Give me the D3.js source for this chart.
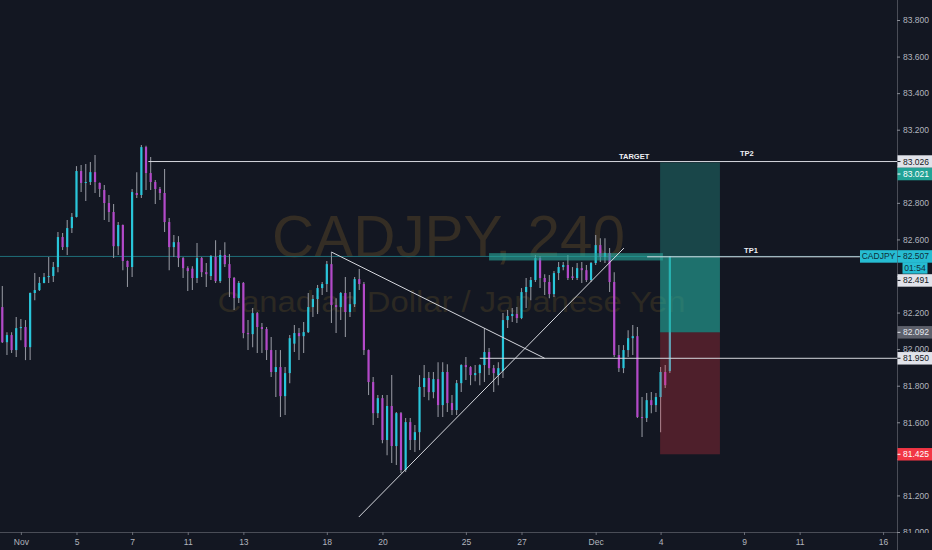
<!DOCTYPE html>
<html>
<head>
<meta charset="utf-8">
<script src="https://cdn.jsdelivr.net/npm/d3@7"></script>
<style>
  html, body { margin: 0; padding: 0; background: #131722; }
  svg { display: block; }
</style>
</head>
<body>
<div id="chart"></div>
<script>
// CADJPY 240 bars, index 0 = first bar of Nov 1
var firstBar = -4;

var opens = [82.230,82.038,82.077,81.995,82.115,82.121,82.011,82.307,82.323,82.362,
  82.394,82.400,82.449,82.613,82.558,82.662,82.723,82.974,82.909,82.914,
  82.968,82.909,82.870,82.799,82.750,82.563,82.679,82.482,82.449,82.854,
  82.843,83.105,82.963,82.914,82.876,82.854,82.695,82.558,82.585,82.498,
  82.443,82.440,82.389,82.498,82.421,82.400,82.504,82.372,82.515,82.465,
  82.389,82.279,82.362,82.088,82.082,82.197,82.121,82.110,81.995,81.875,
  81.902,81.743,81.869,82.030,82.088,82.071,82.093,82.230,82.274,82.334,
  82.356,82.465,82.241,82.230,82.307,82.203,82.246,82.383,82.356,81.995,
  81.820,81.650,81.732,81.503,81.689,81.470,81.650,81.339,81.601,81.503,
  81.546,81.793,81.842,81.765,81.836,81.694,81.875,81.705,81.667,81.814,
  81.913,81.902,81.858,81.869,81.913,81.984,81.896,81.858,81.880,82.159,
  82.181,82.192,82.170,82.312,82.340,82.378,82.498,82.389,82.367,82.301,
  82.416,82.449,82.460,82.398,82.389,82.443,82.432,82.378,82.471,82.569,
  82.504,82.526,82.367,81.968,81.896,81.995,82.060,82.071,81.629,81.623,
  81.721,81.694,81.738,81.875,81.880];

var highs = [82.345,82.093,82.093,82.176,82.165,82.159,82.310,82.416,82.394,82.416,
  82.504,82.476,82.640,82.635,82.706,82.745,83.001,83.007,83.012,83.023,
  83.062,82.912,82.898,82.843,82.794,82.695,82.682,82.485,82.876,82.968,
  83.116,83.112,83.051,82.925,82.887,82.985,82.717,82.624,82.618,82.504,
  82.454,82.454,82.580,82.504,82.471,82.515,82.596,82.542,82.585,82.520,
  82.394,82.372,82.367,82.159,82.225,82.203,82.143,82.121,82.066,81.995,
  81.995,81.902,82.077,82.132,82.115,82.148,82.307,82.296,82.351,82.367,
  82.482,82.531,82.279,82.312,82.394,82.312,82.394,82.438,82.367,81.998,
  81.847,81.749,81.749,81.749,81.858,81.656,81.656,81.623,81.623,81.585,
  81.858,81.913,81.875,81.875,81.929,81.929,81.918,81.749,81.831,81.918,
  81.957,81.907,81.913,81.918,82.115,82.006,81.913,81.929,82.197,82.214,
  82.225,82.230,82.334,82.389,82.394,82.515,82.509,82.410,82.405,82.427,
  82.476,82.476,82.515,82.449,82.471,82.476,82.460,82.476,82.624,82.607,
  82.607,82.553,82.421,82.022,82.022,82.104,82.132,82.121,81.738,81.760,
  81.765,81.760,81.902,81.913,82.509];

var lows = [82.033,81.968,81.979,81.957,82.049,81.940,81.940,82.268,82.318,82.360,
  82.362,82.367,82.421,82.542,82.515,82.635,82.720,82.859,82.810,82.898,
  82.854,82.832,82.706,82.695,82.498,82.515,82.432,82.340,82.394,82.826,
  82.826,82.870,82.870,82.794,82.815,82.640,82.432,82.504,82.449,82.389,
  82.318,82.323,82.362,82.394,82.340,82.378,82.362,82.362,82.449,82.285,
  82.214,82.252,82.060,81.995,82.011,81.979,81.979,81.940,81.847,81.738,
  81.629,81.640,81.814,81.984,81.940,81.979,82.088,82.176,82.192,82.296,
  82.312,82.143,82.088,82.159,82.066,82.176,82.230,82.323,81.968,81.749,
  81.585,81.623,81.486,81.420,81.377,81.366,81.322,81.328,81.448,81.437,
  81.448,81.738,81.721,81.732,81.629,81.629,81.656,81.640,81.640,81.765,
  81.831,81.803,81.825,81.803,81.820,81.858,81.765,81.803,81.842,82.115,
  82.148,82.143,82.164,82.225,82.268,82.367,82.334,82.296,82.279,82.285,
  82.378,82.432,82.378,82.378,82.378,82.362,82.367,82.367,82.460,82.476,
  82.471,82.312,81.957,81.875,81.869,81.957,81.968,81.623,81.519,81.601,
  81.650,81.656,81.546,81.787,81.869];

var closes = [82.038,82.077,81.995,82.115,82.121,82.011,82.307,82.323,82.362,82.394,
  82.400,82.449,82.613,82.558,82.662,82.723,82.974,82.909,82.914,82.968,
  82.914,82.876,82.799,82.750,82.563,82.679,82.482,82.449,82.859,82.843,
  83.105,82.963,82.914,82.876,82.854,82.695,82.558,82.585,82.498,82.443,
  82.427,82.389,82.498,82.421,82.410,82.509,82.372,82.515,82.465,82.389,
  82.279,82.362,82.088,82.082,82.197,82.121,82.110,81.995,81.875,81.902,
  81.743,81.869,82.060,82.088,82.071,82.093,82.230,82.274,82.334,82.356,
  82.465,82.241,82.230,82.307,82.203,82.246,82.383,82.356,81.995,81.820,
  81.650,81.732,81.503,81.689,81.470,81.650,81.339,81.601,81.503,81.546,
  81.793,81.842,81.765,81.836,81.694,81.875,81.705,81.667,81.814,81.913,
  81.902,81.858,81.869,81.913,81.984,81.896,81.869,81.896,82.159,82.181,
  82.192,82.170,82.312,82.340,82.378,82.498,82.389,82.367,82.301,82.416,
  82.449,82.460,82.389,82.389,82.443,82.432,82.378,82.471,82.569,82.504,
  82.526,82.367,81.968,81.896,81.995,82.060,82.071,81.629,81.623,81.721,
  81.694,81.738,81.875,81.803,82.507];

// time axis: bar index of each labelled day
var dayTicks = [0, 12, 24, 36, 48, 66, 78, 96, 108, 124, 138, 156, 168, 186];
var dayLabels = ["Nov", "5", "7", "11", "13", "18", "20", "25", "27", "Dec", "4", "9", "11", "16"];

var priceTicks = [81.0, 81.2, 81.4, 81.6, 81.8, 82.0, 82.2, 82.4, 82.6, 82.8, 83.0, 83.2, 83.4, 83.6, 83.8];

// drawings (bar index, price)
var levelPrices = [83.026, 81.950];
var levelStarts = [27.5, 99];
var trendStart = [[67, 82.531], [72.9, 81.082]];
var trendEnd = [[113, 81.950], [130.1, 82.553]];
var tp1Line = [135.1, 181, 82.505];
var zoneBand = [101, 138.5, 82.525, 82.485];
var position = {from: 137.9, to: 150.8, entry: 82.092, target: 83.021, stop: 81.425};
var lastPrice = 82.507;
var noteTexts = ["TARGET", "TP2", "TP1"];
var notePos = [[132.3, 83.039], [156.6, 83.056], [157.5, 82.525]];

// price scale labels
var markPrices = [83.026, 83.021, 82.507, 82.491, 82.092, 81.950, 81.425];
var markKinds = ["line", "target", "last", "line", "entry", "line", "stop"];
var symbolName = "CADJPY";
var countdown = "01:54";

var svgWidth = 932;
var svgHeight = 550;
var plotW = 897;
var plotH = 532;

var markStyle = {
  line:   {bg: "#e1e3ea", fg: "#131722"},
  target: {bg: "#22a396", fg: "#ffffff"},
  last:   {bg: "#26bcd2", fg: "#0f2d38"},
  entry:  {bg: "#5d606b", fg: "#e6e8ee"},
  stop:   {bg: "#f23645", fg: "#ffffff"}
};

var svg = d3.select("#chart")
  .append("svg")
  .attr("width", svgWidth)
  .attr("height", svgHeight)
  .style("font-family", "'Liberation Sans', Arial, sans-serif");

svg.append("rect")
  .attr("width", svgWidth)
  .attr("height", svgHeight)
  .attr("fill", "#131722");

var xScale = d3.scaleLinear().domain([-4.5, 189]).range([0, plotW]);
var yScale = d3.scaleLinear().domain([81.0, 83.8]).range([plotH, 20]);

var defs = svg.append("defs");
defs.append("clipPath").attr("id", "plotClip")
  .append("rect").attr("width", plotW).attr("height", plotH);
defs.append("clipPath").attr("id", "axisClip")
  .append("rect").attr("x", plotW).attr("width", svgWidth - plotW).attr("height", plotH + 1);

var plot = svg.append("g").attr("clip-path", "url(#plotClip)");

// watermark
plot.append("text")
  .attr("x", plotW / 2)
  .attr("y", 257)
  .attr("text-anchor", "middle")
  .attr("font-size", 60)
  .attr("textLength", 353)
  .attr("lengthAdjust", "spacingAndGlyphs")
  .attr("fill", "#342d24")
  .text(symbolName + ", 240");

plot.append("text")
  .attr("x", plotW / 2 + 3)
  .attr("y", 312)
  .attr("text-anchor", "middle")
  .attr("font-size", 30)
  .attr("textLength", 468)
  .attr("lengthAdjust", "spacingAndGlyphs")
  .attr("fill", "#2c2923")
  .text("Canadian Dollar / Japanese Yen");

// last price line
plot.append("line")
  .attr("x1", 0).attr("x2", plotW)
  .attr("y1", yScale(lastPrice)).attr("y2", yScale(lastPrice))
  .attr("stroke", "#1f6f7a")
  .attr("stroke-width", 1);

// candles
var bars = opens.map(function(o, i) {
  return {k: firstBar + i, o: o, h: highs[i], l: lows[i], c: closes[i]};
});

var candles = plot.append("g");
candles.selectAll("line")
  .data(bars)
  .enter()
  .append("line")
  .attr("x1", d => xScale(d.k))
  .attr("x2", d => xScale(d.k))
  .attr("y1", d => yScale(d.h))
  .attr("y2", d => yScale(d.l))
  .attr("stroke", "#8e919a")
  .attr("stroke-width", 1.1);

candles.selectAll("rect")
  .data(bars)
  .enter()
  .append("rect")
  .attr("x", d => xScale(d.k) - 1.1)
  .attr("width", 2.2)
  .attr("y", d => yScale(Math.max(d.o, d.c)))
  .attr("height", d => Math.max(1, Math.abs(yScale(d.o) - yScale(d.c))))
  .attr("fill", d => d.c >= d.o ? "#29c6da" : "#b349c9");

// teal zone band
plot.append("rect")
  .attr("x", xScale(zoneBand[0]))
  .attr("width", xScale(zoneBand[1]) - xScale(zoneBand[0]))
  .attr("y", yScale(zoneBand[2]))
  .attr("height", yScale(zoneBand[3]) - yScale(zoneBand[2]))
  .attr("fill", "rgba(38,166,154,0.62)");

// long position tool
var px0 = xScale(position.from);
var pw = xScale(position.to) - px0;
plot.append("rect")
  .attr("x", px0).attr("width", pw)
  .attr("y", yScale(position.target))
  .attr("height", yScale(position.entry) - yScale(position.target))
  .attr("fill", "rgba(38,166,154,0.33)");
plot.append("rect")
  .attr("x", px0).attr("width", pw)
  .attr("y", yScale(lastPrice))
  .attr("height", yScale(position.entry) - yScale(lastPrice))
  .attr("fill", "rgba(38,166,154,0.45)");
plot.append("rect")
  .attr("x", px0).attr("width", pw)
  .attr("y", yScale(position.entry))
  .attr("height", yScale(position.stop) - yScale(position.entry))
  .attr("fill", "rgba(242,54,69,0.27)");

// horizontal levels
var drawings = plot.append("g")
  .attr("stroke", "#d6d8de")
  .attr("stroke-width", 1)
  .attr("fill", "none");

levelPrices.forEach(function(p, i) {
  drawings.append("line")
    .attr("x1", xScale(levelStarts[i])).attr("x2", plotW)
    .attr("y1", yScale(p)).attr("y2", yScale(p));
});

// trend lines
trendStart.forEach(function(s, i) {
  drawings.append("line")
    .attr("x1", xScale(s[0])).attr("y1", yScale(s[1]))
    .attr("x2", xScale(trendEnd[i][0])).attr("y2", yScale(trendEnd[i][1]));
});

drawings.append("line")
  .attr("x1", xScale(tp1Line[0])).attr("x2", xScale(tp1Line[1]))
  .attr("y1", yScale(tp1Line[2])).attr("y2", yScale(tp1Line[2]));

// notes
plot.selectAll(".note")
  .data(noteTexts)
  .enter()
  .append("text")
  .attr("class", "note")
  .attr("x", (d, i) => xScale(notePos[i][0]))
  .attr("y", (d, i) => yScale(notePos[i][1]))
  .attr("text-anchor", "middle")
  .attr("font-size", 7.5)
  .attr("font-weight", "bold")
  .attr("fill", "#eef0f4")
  .text(d => d);

// axis frame
svg.append("line")
  .attr("x1", 0).attr("x2", plotW)
  .attr("y1", plotH + 0.5).attr("y2", plotH + 0.5)
  .attr("stroke", "#4a4d57");
svg.append("line")
  .attr("x1", plotW + 0.5).attr("x2", plotW + 0.5)
  .attr("y1", 0).attr("y2", svgHeight)
  .attr("stroke", "#4a4d57");

// price scale markers, pushed apart when they overlap
var markH = 12.5;
var marks = markPrices.map(function(p, i) {
  return {p: p, kind: markKinds[i], cy: yScale(p)};
});
var prevBottom = -100;
marks.forEach(function(m) {
  if (m.cy - markH / 2 < prevBottom) m.cy = prevBottom + markH / 2;
  prevBottom = m.cy + markH / 2 + (m.kind === "last" ? markH - 1 : 0);
});

// price axis (tick labels under a marker are dropped, as TradingView does)
var priceAxis = d3.axisRight(yScale)
  .tickValues(priceTicks)
  .tickFormat(d3.format(".3f"))
  .tickSize(3)
  .tickPadding(3);

var yAxisG = svg.append("g")
  .attr("clip-path", "url(#axisClip)")
  .append("g")
  .attr("transform", `translate(${plotW}, 0)`)
  .call(priceAxis);
yAxisG.select(".domain").remove();
yAxisG.selectAll("line").attr("stroke", "#8a8d96");
yAxisG.selectAll("text")
  .attr("fill", "#b2b5be")
  .attr("font-size", 8.5)
  .style("font-family", "'Liberation Sans', Arial, sans-serif")
  .filter(function(d) {
    var ty = yScale(d);
    return marks.some(m => ty > m.cy - 9 && ty < m.cy + 9 + (m.kind === "last" ? markH : 0));
  })
  .remove();

// time axis
var timeAxis = d3.axisBottom(xScale)
  .tickValues(dayTicks)
  .tickFormat((d, i) => dayLabels[i])
  .tickSize(3)
  .tickSizeOuter(0)
  .tickPadding(4);

var xAxisG = svg.append("g")
  .attr("transform", `translate(0, ${plotH})`)
  .call(timeAxis);
xAxisG.select(".domain").remove();
xAxisG.selectAll("line").attr("stroke", "#6a6d77");
xAxisG.selectAll("text")
  .attr("fill", "#b2b5be")
  .attr("font-size", 8.5)
  .style("font-family", "'Liberation Sans', Arial, sans-serif");

var markG = svg.append("g");
marks.forEach(function(m) {
  var st = markStyle[m.kind];
  var g = markG.append("g").attr("transform", `translate(${plotW}, ${m.cy})`);
  if (m.kind === "last") {
    g.append("rect")
      .attr("x", -37).attr("y", -markH / 2)
      .attr("width", 37).attr("height", markH)
      .attr("fill", st.bg);
    g.append("text")
      .attr("x", -18.5).attr("y", 3)
      .attr("text-anchor", "middle")
      .attr("font-size", 8.5)
      .attr("fill", st.fg)
      .text(symbolName);
    g.append("rect")
      .attr("x", 5.5).attr("y", markH / 2 - 0.5)
      .attr("width", 25).attr("height", markH - 1)
      .attr("fill", st.bg);
    g.append("text")
      .attr("x", 18).attr("y", markH + 2.5)
      .attr("text-anchor", "middle")
      .attr("font-size", 8.5)
      .attr("fill", st.fg)
      .text(countdown);
  }
  g.append("rect")
    .attr("x", 0.5).attr("y", -markH / 2)
    .attr("width", svgWidth - plotW).attr("height", markH)
    .attr("fill", st.bg);
  g.append("line")
    .attr("x1", 0.5).attr("x2", 3.5)
    .attr("stroke", st.fg);
  g.append("text")
    .attr("x", 6).attr("y", 3)
    .attr("font-size", 8.5)
    .attr("fill", st.fg)
    .text(d3.format(".3f")(m.p));
});
</script>
</body>
</html>
